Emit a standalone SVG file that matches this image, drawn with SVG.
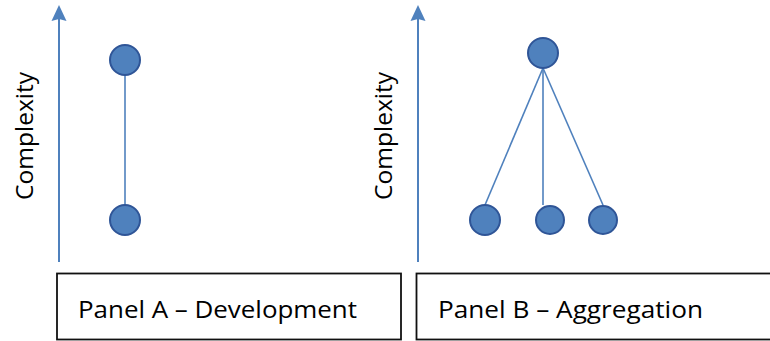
<svg xmlns="http://www.w3.org/2000/svg" width="770" height="341" viewBox="0 0 770 341">
<defs>
<style>
.axis{stroke:#4F81BD;stroke-width:2;fill:none}
.edge{stroke:#4F81BD;stroke-width:1.6;fill:none}
.node{fill:#4F81BD;stroke:#2F5597;stroke-width:2}
.box{fill:#fff;stroke:#111;stroke-width:1.8}
.lbl{font-family:"Open Sans","DejaVu Sans",sans-serif;font-size:24px;fill:#000}
.arrowhead{fill:#4F81BD}
</style>
</defs>
<rect width="770" height="341" fill="#fff"/>
<g id="connectors">
<line class="axis" x1="59" y1="262" x2="59" y2="18"/>
<polygon class="arrowhead" points="59,5 66.5,21 59,19 51.5,21"/>
<line class="axis" x1="418" y1="262" x2="418" y2="18"/>
<polygon class="arrowhead" points="418,5 425.5,21 418,19 410.5,21"/>
<line class="edge" x1="125" y1="75" x2="125" y2="205"/>
<line class="edge" x1="543" y1="68" x2="485" y2="205"/>
<line class="edge" x1="543" y1="68" x2="543" y2="205"/>
<line class="edge" x1="543" y1="68" x2="603" y2="205"/>
</g>
<g id="axis-label-a"><text class="lbl" transform="translate(33,200) rotate(-90)" textLength="128" lengthAdjust="spacingAndGlyphs">Complexity</text></g>
<g id="axis-label-b"><text class="lbl" transform="translate(392,200) rotate(-90)" textLength="128" lengthAdjust="spacingAndGlyphs">Complexity</text></g>
<g id="nodeA1"><circle class="node" cx="125" cy="60" r="15"/></g>
<g id="nodeA2"><circle class="node" cx="125" cy="220" r="15"/></g>
<g id="nodeB0"><circle class="node" cx="543" cy="53" r="15"/></g>
<g id="nodeB1"><circle class="node" cx="485" cy="220" r="15"/></g>
<g id="nodeB2"><circle class="node" cx="550" cy="220" r="14"/></g>
<g id="nodeB3"><circle class="node" cx="603" cy="220" r="14"/></g>
<g id="panelA">
<rect class="box" x="57" y="273.5" width="344" height="66"/>
<text class="lbl" x="78" y="318" textLength="279" lengthAdjust="spacingAndGlyphs">Panel A – Development</text>
</g>
<g id="panelB">
<rect class="box" x="416.5" y="273.5" width="360" height="66"/>
<text class="lbl" x="438" y="318" textLength="265" lengthAdjust="spacingAndGlyphs">Panel B – Aggregation</text>
</g>
</svg>
